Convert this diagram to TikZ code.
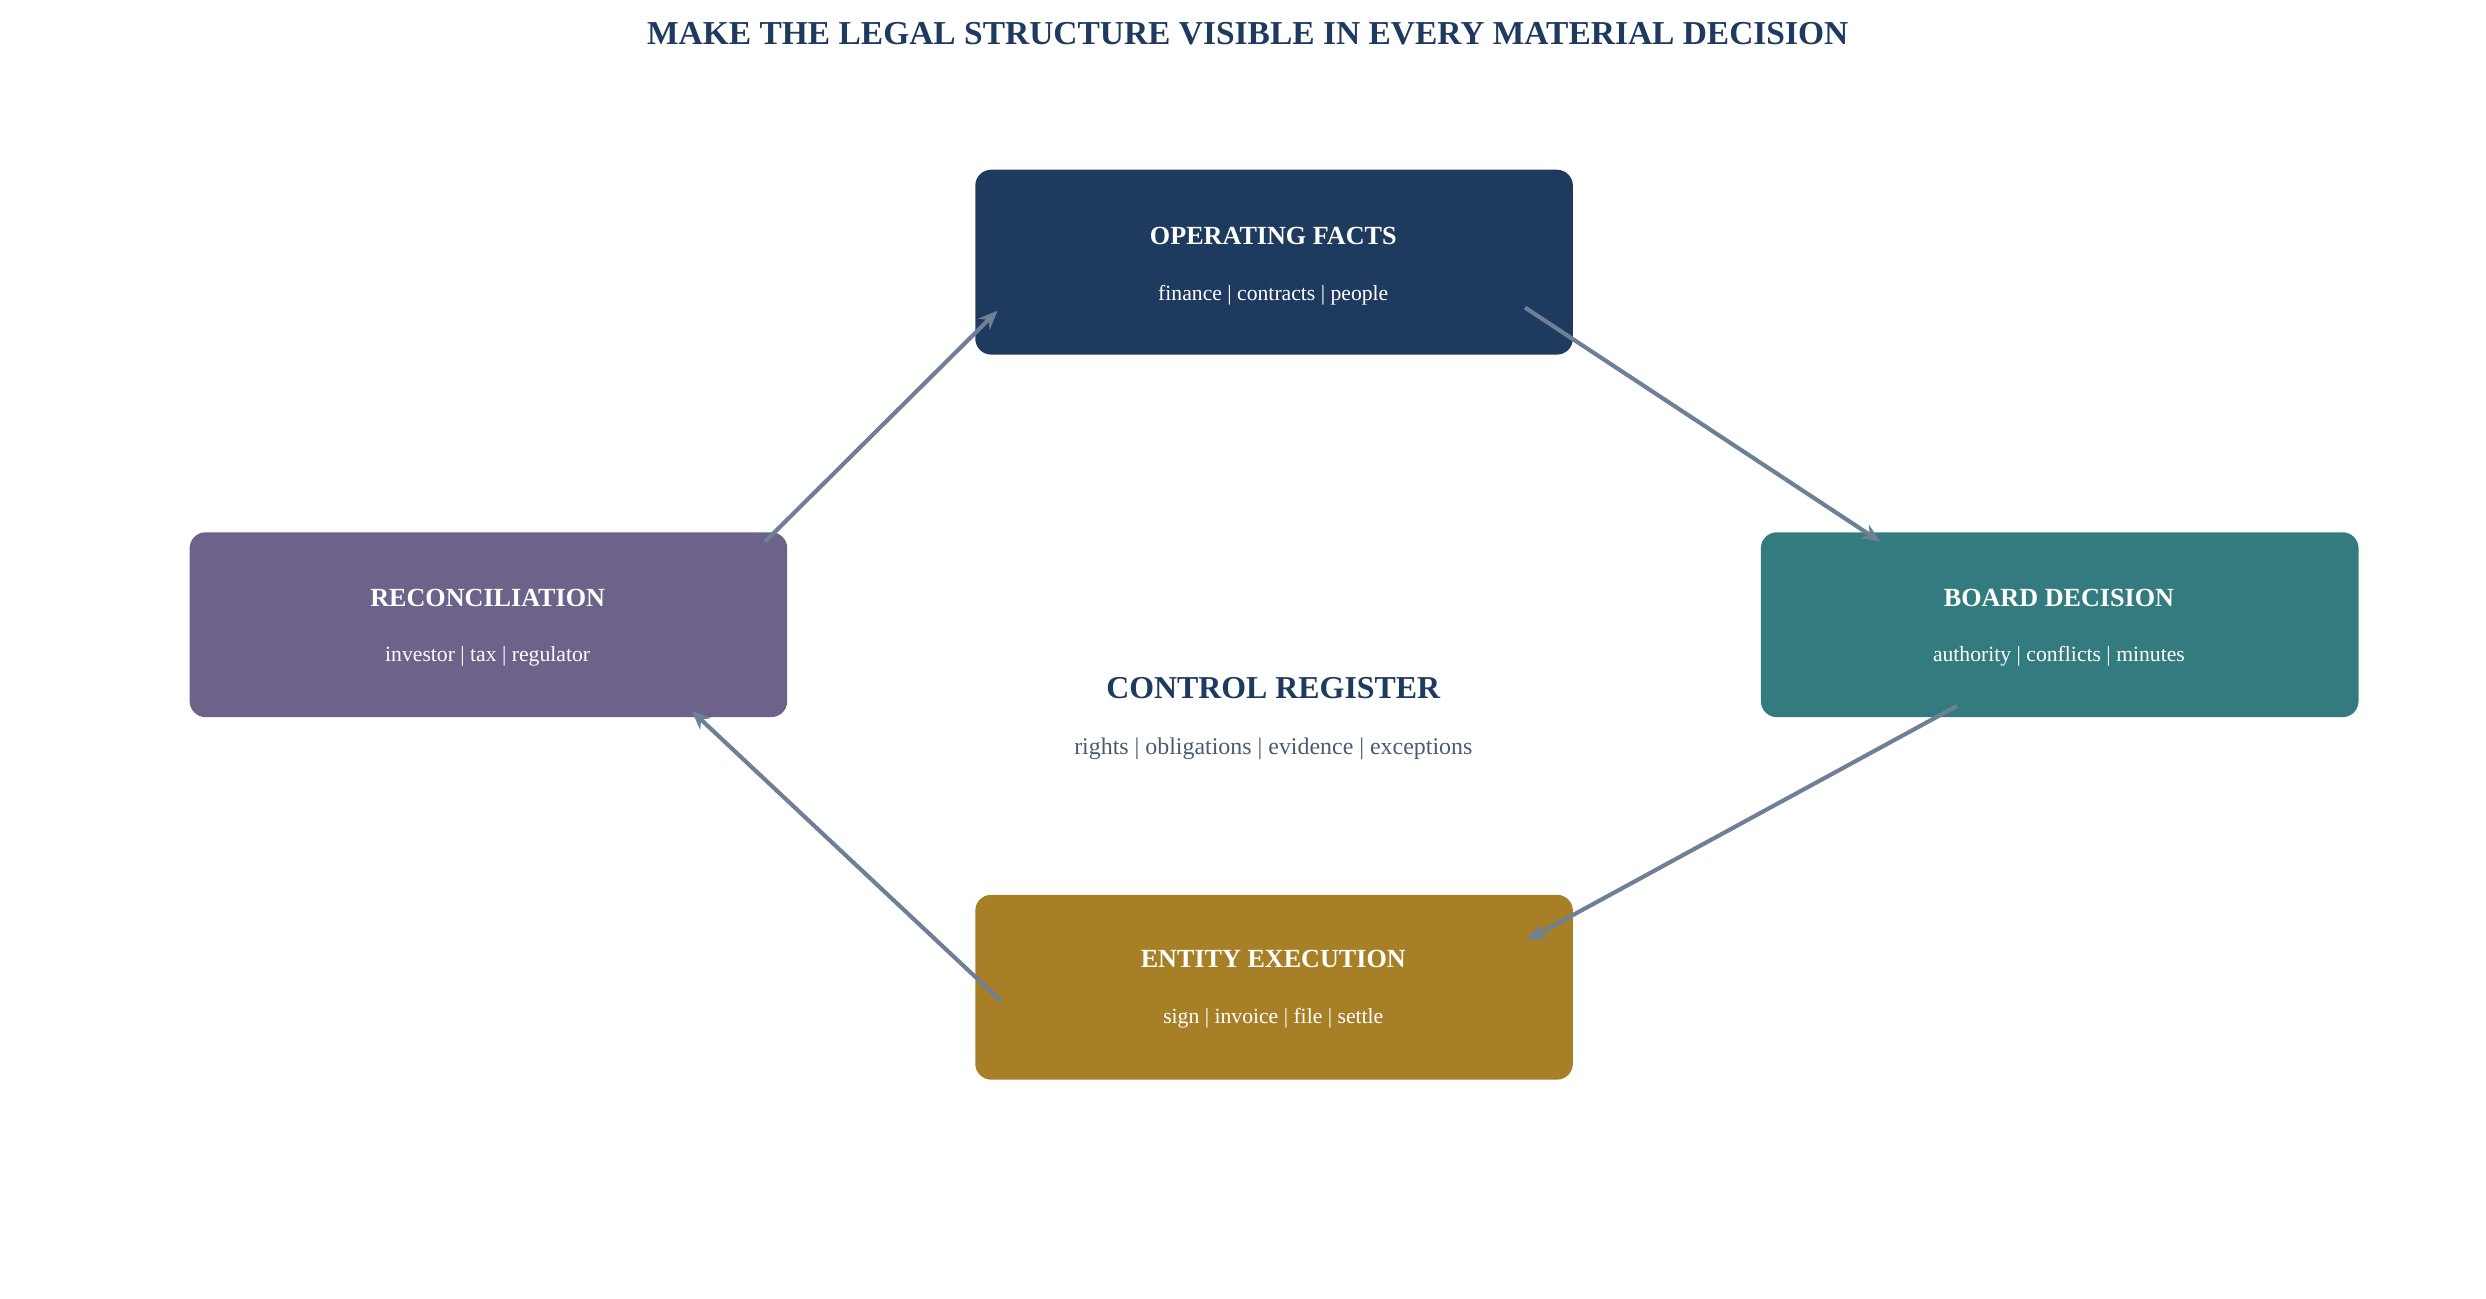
\documentclass[tikz,border=0pt]{standalone}
\usepackage{fontspec}
\setmainfont{Liberation Serif}
\usetikzlibrary{arrows.meta}
\definecolor{navy}{HTML}{1F3A5F}
\definecolor{purp}{HTML}{6C628A}
\definecolor{teal2}{HTML}{347B7F}
\definecolor{gold}{HTML}{A67F27}
\definecolor{arr}{HTML}{6E8096}
\definecolor{sub}{HTML}{4A5A70}
\begin{document}
\begin{tikzpicture}[x=0.5pt,y=-0.5pt,
 box/.style={rounded corners=5pt,minimum width=187.5pt,minimum height=58pt,inner sep=0pt},
 ttl/.style={text=white,font=\bfseries\fontsize{8.2}{10}\selectfont},
 st/.style={text=white,font=\fontsize{6.8}{8}\selectfont},
 con/.style={draw=arr,line width=1.3pt,-{Stealth[length=6pt,width=5pt]}}]
\useasboundingbox (0,0) rectangle (1560,815);
\node[font=\bfseries\fontsize{10.5}{12}\selectfont,text=navy] (title) at (783,21) {MAKE THE LEGAL STRUCTURE VISIBLE IN EVERY MATERIAL DECISION};
\node[box,fill=navy] (op) at (799.5,164.5) {};
\node[box,fill=purp] (rec) at (306.5,392) {};
\node[box,fill=teal2] (bd) at (1292.5,392) {};
\node[box,fill=gold] (ex) at (799.5,619.5) {};
\node[ttl] (opt) at (799,148) {OPERATING FACTS};
\node[st] (ops) at (799,185) {finance | contracts | people};
\node[ttl] (rect) at (306,375) {RECONCILIATION};
\node[st] (recs) at (306,412) {investor | tax | regulator};
\node[ttl] (bdt) at (1292,375) {BOARD DECISION};
\node[st] (bds) at (1292,412) {authority | conflicts | minutes};
\node[ttl] (ext) at (799,602) {ENTITY EXECUTION};
\node[st] (exs) at (799,639) {sign | invoice | file | settle};
\node[font=\bfseries\fontsize{10}{12}\selectfont,text=navy] (cr) at (799,432) {CONTROL REGISTER};
\node[font=\fontsize{7.5}{9}\selectfont,text=sub] (crs) at (799,470) {rights | obligations | evidence | exceptions};
\coordinate (a1) at (480,340); \coordinate (a2) at (626,195);
\coordinate (b1) at (957,193); \coordinate (b2) at (1180,340);
\coordinate (c1) at (1228,443); \coordinate (c2) at (958,590);
\coordinate (d1) at (628,628); \coordinate (d2) at (434,446);
\draw[con] (a1) -- (a2);
\draw[con] (b1) -- (b2);
\draw[con] (c1) -- (c2);
\draw[con] (d1) -- (d2);
\end{tikzpicture}
\end{document}
